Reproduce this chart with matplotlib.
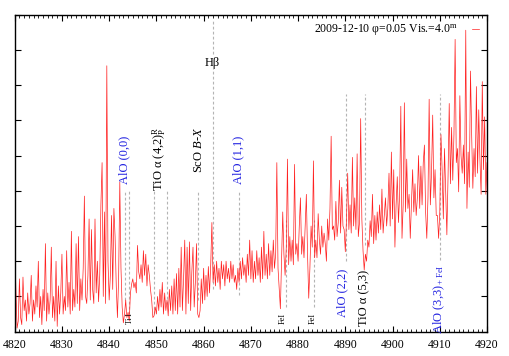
import numpy as np
import matplotlib
matplotlib.use('Agg')
import matplotlib.pyplot as plt
from matplotlib.ticker import MultipleLocator

plt.rcParams['font.family'] = ['Liberation Serif', 'DejaVu Serif']
plt.rcParams['mathtext.fontset'] = 'custom'
plt.rcParams['mathtext.rm'] = 'Liberation Serif'
plt.rcParams['mathtext.it'] = 'Liberation Serif:italic'

# spectrum sampled every 0.25 A, 4820..4920
wave = np.arange(4820.0, 4920.001, 0.25)

flux_4820 = [2.5, 1.2, 0.1, 0.3, 1.5, 0.4, 0.2, 1.55, 0.6, 0.9,
             0.3, 1.1, 0.5, 0.8, 1.6, 0.3, 0.9, 0.5, 1.3, 0.7,
             2.0, 0.4, 1.0, 0.2, 1.2, 0.6, 2.5, 0.3, 1.1, 0.5,
             0.9, 2.4, 0.4, 1.0, 0.3, 2.0, 0.15, 1.3, 0.5, 1.1]
flux_4830 = [2.2, 0.5, 1.0, 0.6, 2.3, 0.7, 1.4, 0.5, 2.85, 0.6,
             1.2, 0.7, 2.5, 0.8, 2.7, 0.6, 1.5, 0.9, 1.8, 3.85,
             1.0, 0.8, 1.6, 3.2, 0.9, 2.9, 1.2, 0.8, 3.2, 1.1,
             2.0, 0.85, 1.6, 3.6, 4.8, 1.0, 3.4, 0.8, 7.55, 2.0]
flux_4840 = [0.9, 1.6, 3.3, 1.2, 3.5, 2.7, 1.3, 0.4, 1.5, 4.25,
             1.8, 0.7, 0.25, 0.5, 0.9, 0.4, 0.55, 0.3, 1.1, 1.35,
             1.5, 1.25, 1.4, 1.1, 2.45, 1.7, 1.5, 1.9, 1.4, 2.3,
             1.6, 2.2, 1.3, 1.9, 1.6, 1.2, 0.9, 0.4, 0.45, 0.7]
flux_4850 = [0.5, 1.0, 0.6, 1.2, 0.7, 1.4, 0.5, 1.1, 0.6, 0.9,
             0.45, 1.2, 0.6, 1.3, 0.5, 1.5, 0.6, 1.65, 0.5, 1.8,
             0.7, 2.4, 0.6, 1.5, 2.6, 0.5, 2.4, 0.8, 2.55, 0.6,
             1.7, 2.4, 0.7, 1.4, 2.5, 0.5, 0.4, 0.6, 1.5, 0.8]
flux_4860 = [1.8, 0.9, 1.6, 1.0, 1.85, 1.1, 1.9, 3.1, 1.4, 1.9,
             1.3, 2.0, 1.4, 1.8, 1.2, 2.0, 1.5, 1.9, 1.3, 2.0,
             1.5, 1.8, 1.4, 2.0, 1.5, 1.9, 1.4, 1.6, 1.2, 1.8,
             1.4, 2.0, 1.5, 2.1, 1.6, 1.9, 1.4, 2.2, 1.6, 2.6]
flux_4870 = [1.5, 2.3, 1.4, 2.0, 1.5, 2.3, 1.6, 2.1, 1.4, 2.4,
             1.5, 2.85, 1.6, 2.2, 1.5, 2.5, 1.6, 2.3, 1.7, 2.6,
             1.8, 2.2, 4.8, 1.8, 1.2, 0.65, 2.0, 3.4, 2.2, 1.6,
             2.4, 4.9, 1.9, 2.7, 2.0, 2.6, 1.9, 4.75, 2.2, 2.5]
flux_4880 = [2.0, 3.0, 3.8, 2.2, 2.7, 2.1, 3.0, 3.9, 2.2, 0.95,
             1.8, 3.0, 2.4, 4.85, 2.1, 2.6, 2.1, 3.35, 2.6, 2.2,
             3.0, 2.4, 2.8, 2.5, 2.0, 3.2, 2.6, 3.5, 5.55, 2.9,
             3.0, 2.6, 3.7, 2.7, 3.1, 4.3, 2.8, 4.1, 3.0, 2.9]
flux_4890 = [2.27, 3.2, 4.5, 2.9, 3.6, 2.8, 4.95, 3.0, 3.8, 2.9,
             5.05, 2.7, 3.1, 6.05, 3.2, 2.3, 1.75, 2.2, 2.0, 2.6,
             2.4, 3.15, 2.7, 3.9, 2.5, 3.3, 2.6, 3.4, 2.8, 3.6,
             2.9, 4.05, 2.8, 3.3, 3.8, 3.0, 3.5, 4.5, 3.0, 5.1]
flux_4900 = [3.2, 4.6, 2.4, 3.6, 4.4, 3.1, 3.9, 6.4, 2.65, 3.6,
             6.5, 3.4, 4.9, 3.5, 3.9, 2.65, 3.6, 4.6, 3.4, 4.2,
             3.3, 3.8, 5.0, 3.5, 4.7, 3.6, 4.8, 5.3, 3.4, 2.65,
             3.8, 6.6, 3.6, 4.5, 6.15, 3.8, 4.6, 3.3, 3.3, 2.65]
flux_4910 = [3.4, 5.6, 4.6, 3.2, 5.2, 4.0, 2.75, 4.4, 6.48, 4.2,
             5.8, 4.3, 5.6, 8.3, 4.8, 5.2, 3.97, 6.7, 5.0, 4.5,
             5.3, 4.2, 8.56, 3.5, 5.1, 4.1, 7.4, 5.6, 4.07, 5.2,
             4.4, 6.96, 4.5, 6.3, 4.9, 3.9, 7.1, 4.6, 6.1, 3.9, 4.8]

flux = np.concatenate([flux_4820, flux_4830, flux_4840, flux_4850, flux_4860,
                       flux_4870, flux_4880, flux_4890, flux_4900, flux_4910])

# identified features: wavelength, top and bottom of the marker line
line_waves = [4843.4, 4844.2, 4849.45, 4852.3, 4858.9, 4861.9,
              4867.4, 4877.4, 4883.4, 4890.05, 4894.1, 4910.0]
line_tops = [4.0, 4.0, 4.0, 4.0, 4.0, 8.85, 4.0, 3.17, 3.17, 6.75, 6.75, 6.75]
line_bottoms = [0.9, 0.5, 0.5, 0.8, 0.9, 1.2, 1.05, 0.7, 0.7, 2.0, 2.45, 2.03]

legend_label = '2009-12-10 \u03c6=0.05 Vis.=4.0$^{\\rm m}$'

fig = plt.figure(figsize=(5.09, 3.56), dpi=100)
ax = fig.add_axes([0.0289, 0.0683, 0.9279, 0.8904])

for w, top, bot in zip(line_waves, line_tops, line_bottoms):
    ax.plot([w, w], [bot, top], color='#b4b4b4', lw=0.8, dashes=(2.5, 2), zorder=1)

ax.plot(wave, flux, color='#ff2020', lw=0.5, zorder=2, label=legend_label)

blue = '#2020e0'
ax.text(4843.1, 4.2, 'AlO (0,0)', rotation=90, color=blue, fontsize=9, ha='center', va='bottom')
ax.text(4850.5, 4.0, 'TiO \u03b1 (4,2)$^{\\rm R}_{\\rm P}$', rotation=90, fontsize=9, ha='center', va='bottom')
ax.text(4859.1, 4.5, 'ScO $B$-$X$', rotation=90, fontsize=9, ha='center', va='bottom')
ax.text(4861.9, 7.64, 'H\u03b2', fontsize=9, ha='center', va='center',
        bbox=dict(facecolor='white', edgecolor='none', pad=0.5))
ax.text(4867.4, 4.2, 'AlO (1,1)', rotation=90, color=blue, fontsize=9, ha='center', va='bottom')
ax.text(4844.4, 0.54, 'Ti I', rotation=90, fontsize=5.5, ha='center', va='top')
ax.text(4876.7, 0.53, 'FeI', rotation=90, fontsize=6, ha='center', va='top')
ax.text(4883.0, 0.53, 'FeI', rotation=90, fontsize=6, ha='center', va='top')
ax.text(4889.3, 1.8, 'AlO (2,2)', rotation=90, color=blue, fontsize=9, ha='center', va='top')
ax.text(4894.1, 1.75, 'TiO \u03b1 (5,3)', rotation=90, fontsize=9, ha='center', va='top')
ax.text(4909.9, 1.9, 'AlO (3,3)$_{\\rm +FeI}$', rotation=90, color=blue, fontsize=9, ha='center', va='top')

ax.set_xlim(4820, 4920)
ax.set_ylim(0, 9)
ax.xaxis.set_major_locator(MultipleLocator(10))
ax.xaxis.set_minor_locator(MultipleLocator(1))
ax.yaxis.set_major_locator(MultipleLocator(1))
ax.tick_params(which='both', direction='in', top=True, right=True, labelsize=8.5)
ax.tick_params(which='major', length=4, width=0.8, pad=5)
ax.tick_params(which='minor', length=2, width=0.6)
ax.tick_params(axis='y', labelleft=False)
for s in ax.spines.values():
    s.set_linewidth(1.0)

ax.legend(loc='upper right', frameon=False, markerfirst=False, handlelength=0.6,
          fontsize=8.5, borderaxespad=0.3, handletextpad=1.2)

fig.savefig('out.png', dpi=100)
